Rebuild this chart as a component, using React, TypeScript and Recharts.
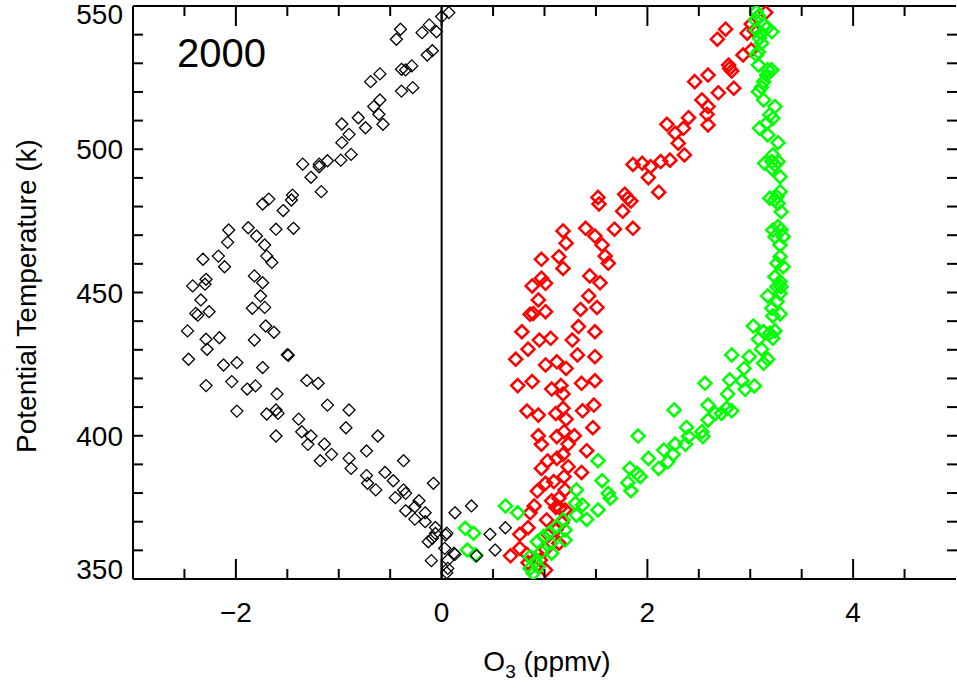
import React from 'react';
import { ScatterChart, Scatter, XAxis, YAxis, ReferenceLine } from 'recharts';

// ---- data (O3 ppmv, potential temperature K) ----
const blackSeries: [number, number][] = [
  [0.07, 547.7], [0.0, 546.3], [-0.12, 543.4], [-0.19, 540.7], [-0.05, 541.0], [-0.4, 541.9], [-0.44, 538.4],
  [-0.09, 534.4], [-0.14, 532.9], [-0.39, 527.9], [-0.35, 527.7], [-0.29, 529.1], [-0.6, 526.3], [-0.69, 523.6],
  [-0.39, 520.3], [-0.28, 521.5], [-0.6, 517.2], [-0.66, 514.9], [-0.61, 512.2], [-0.57, 508.7], [-0.81, 511.0],
  [-0.74, 507.5], [-0.97, 508.8], [-0.9, 505.2], [-0.97, 502.3], [-0.88, 498.2], [-0.98, 496.2], [-1.11, 496.0],
  [-1.19, 494.8], [-1.19, 493.9], [-1.35, 494.8], [-1.27, 490.2], [-1.17, 485.2], [-1.45, 484.0], [-1.46, 482.3],
  [-1.54, 478.6], [-1.68, 482.6], [-1.74, 480.9], [-1.88, 472.6], [-1.8, 469.7], [-1.72, 466.6], [-1.61, 472.1],
  [-1.44, 472.4], [-2.07, 471.8], [-2.08, 467.5], [-2.17, 462.7], [-2.32, 461.6], [-2.11, 459.0], [-1.7, 462.7],
  [-1.65, 460.5], [-1.82, 455.8], [-1.74, 453.4], [-2.29, 454.6], [-2.3, 452.9], [-2.42, 452.3],
  [-2.34, 447.4], [-2.26, 443.3], [-2.39, 442.7], [-2.37, 442.1], [-2.47, 436.6], [-2.29, 433.7], [-2.28, 430.2],
  [-2.16, 434.2], [-2.46, 426.7], [-2.12, 424.7], [-1.99, 425.5], [-2.29, 417.5], [-2.04, 418.9], [-1.89, 416.3],
  [-1.81, 417.4], [-1.99, 408.6], [-1.76, 448.8], [-1.84, 444.5], [-1.72, 444.8], [-1.71, 438.3], [-1.63, 436.1],
  [-1.82, 433.4], [-1.49, 428.1], [-1.5, 428.3], [-1.74, 423.8], [-1.6, 414.6], [-1.61, 409.0], [-1.7, 407.6],
  [-1.59, 407.8], [-1.61, 399.9], [-1.31, 419.3], [-1.2, 418.3], [-1.11, 410.7], [-0.9, 409.0], [-1.39, 405.8],
  [-1.36, 401.4], [-1.27, 399.9], [-1.3, 397.0], [-1.14, 397.1], [-1.07, 393.5], [-1.18, 391.3], [-0.93, 402.8],
  [-0.9, 392.1], [-0.88, 388.6], [-0.73, 394.7], [-0.62, 399.9], [-0.37, 391.3], [-0.55, 387.2], [-0.47, 384.3],
  [-0.73, 386.1], [-0.72, 383.4], [-0.64, 381.1], [-0.37, 381.1], [-0.35, 379.9], [-0.45, 378.4], [-0.22, 377.3],
  [-0.26, 375.2], [-0.35, 373.8], [-0.16, 373.1], [-0.26, 370.9], [-0.16, 370.0], [-0.08, 383.4], [-0.06, 368.0],
  [-0.06, 365.9], [-0.09, 364.2], [-0.13, 363.0], [0.04, 365.4], [0.13, 373.1], [0.03, 360.7], [0.13, 358.6],
  [0.06, 356.6], [-0.1, 356.4], [0.06, 353.7], [0.05, 352.2], [0.29, 375.5], [0.47, 365.6], [0.62, 367.9],
  [0.52, 360.1], [0.34, 358.1], [0.05, 366.0], [0.12, 359.0],
];

const redSeries: [number, number][] = [
  [3.15, 547.7], [3.01, 543.7], [2.97, 540.5], [3.04, 541.4], [2.76, 541.9], [2.68, 538.4], [2.93, 532.9],
  [3.01, 534.6], [2.79, 529.4], [2.8, 528.2], [2.82, 527.3], [2.59, 525.9], [2.46, 523.6], [2.69, 519.7],
  [2.84, 521.3], [2.53, 517.2], [2.59, 514.9], [2.58, 512.2], [2.59, 508.5], [2.19, 508.7], [2.4, 511.0],
  [2.35, 507.3], [2.27, 505.6], [2.3, 502.1], [2.36, 498.0], [2.22, 496.2], [2.13, 495.7], [2.03, 493.9],
  [1.95, 495.1], [1.86, 494.7], [2.01, 490.1], [2.11, 485.0], [1.78, 484.3], [1.81, 482.9], [1.84, 481.9],
  [1.52, 483.2], [1.53, 480.9], [1.76, 478.4], [1.68, 472.1], [1.86, 472.4], [1.4, 472.4], [1.49, 469.7],
  [1.18, 471.5], [1.21, 467.2], [1.56, 466.6], [1.59, 462.7], [1.62, 460.2], [1.14, 462.5], [0.97, 461.6],
  [1.18, 458.4], [1.44, 455.8], [1.54, 453.4], [0.97, 455.0], [1.01, 453.2], [0.88, 452.3],
  [1.43, 448.8], [0.94, 447.4], [1.01, 443.3], [0.86, 442.4], [0.89, 442.7], [1.35, 444.1], [1.51, 444.8],
  [0.78, 436.3], [0.95, 433.4], [1.06, 434.0], [1.33, 438.1], [1.27, 433.4], [1.49, 436.3], [0.84, 430.2],
  [0.72, 426.7], [1.01, 424.7], [1.12, 425.8], [1.21, 423.5], [1.32, 428.2], [1.49, 427.6], [0.74, 417.5],
  [0.88, 418.9], [1.07, 416.3], [1.16, 417.5], [1.18, 414.6], [1.36, 418.3], [1.49, 419.2], [0.83, 408.6],
  [0.94, 407.2], [1.11, 407.8], [1.18, 409.6], [1.21, 405.8], [1.37, 408.7], [1.48, 410.7], [1.47, 402.8],
  [0.94, 400.0], [0.97, 397.0], [1.12, 399.7], [1.19, 401.4], [1.29, 400.0], [1.23, 397.1], [1.41, 394.8],
  [1.03, 391.2], [1.12, 392.1], [1.18, 393.5], [0.97, 388.6], [1.23, 389.2], [1.36, 387.2], [1.01, 383.4],
  [1.09, 384.0], [1.19, 385.7], [0.93, 380.7], [1.2, 381.1], [1.14, 378.2], [1.07, 377.3], [0.9, 375.5],
  [0.86, 373.1], [1.11, 375.0], [1.15, 374.7], [1.02, 370.6], [1.2, 374.1], [1.17, 369.7], [0.84, 367.9],
  [0.76, 365.6], [1.04, 365.4], [1.11, 367.1], [1.14, 362.5], [0.76, 360.7], [0.67, 358.1], [0.83, 358.6],
  [1.01, 360.4], [0.84, 355.7], [0.96, 356.6], [1.01, 353.1],
];

const greenSeries: [number, number][] = [
  [3.06, 548.0], [3.08, 546.5], [3.05, 545.1], [3.14, 543.4], [3.21, 541.0], [3.11, 540.5], [3.16, 542.2],
  [3.06, 541.6], [3.09, 538.7], [3.11, 537.0], [3.08, 534.0], [3.06, 532.9], [3.08, 529.4], [3.17, 527.7],
  [3.21, 527.7], [3.16, 525.9], [3.13, 523.6], [3.11, 521.6], [3.08, 520.1], [3.13, 517.2], [3.24, 514.9],
  [3.19, 512.0], [3.22, 510.8], [3.16, 509.1], [3.09, 507.3], [3.17, 505.0], [3.27, 502.3], [3.22, 498.0],
  [3.14, 495.1], [3.21, 495.7], [3.24, 494.5], [3.27, 495.7], [3.21, 493.3], [3.29, 490.4], [3.29, 485.2],
  [3.19, 482.9], [3.26, 483.4], [3.27, 481.1], [3.3, 478.2], [3.24, 482.3], [3.27, 473.0], [3.22, 471.8],
  [3.3, 471.8], [3.24, 469.5], [3.32, 469.5], [3.29, 466.6], [3.29, 462.5], [3.26, 460.2], [3.32, 459.0],
  [3.24, 455.5], [3.29, 453.8], [3.3, 452.0], [3.26, 452.0],
  [3.17, 448.8], [3.29, 449.7], [3.26, 446.8], [3.21, 444.5], [3.29, 442.5], [3.22, 441.8], [3.03, 438.3],
  [3.13, 436.3], [3.24, 436.6], [3.08, 433.7], [3.22, 434.0], [3.19, 435.8], [3.11, 430.2], [2.99, 427.6],
  [3.17, 426.7], [3.13, 425.3], [2.82, 428.2], [2.94, 423.5], [2.8, 419.5], [2.92, 419.2], [3.04, 417.4],
  [2.95, 416.2], [2.78, 414.6], [2.56, 418.3], [2.59, 410.7], [2.72, 407.8], [2.82, 408.7], [2.77, 409.6],
  [2.66, 407.8], [2.59, 405.5], [2.26, 409.0], [2.38, 402.9], [2.53, 401.4], [2.54, 399.7], [2.4, 399.7],
  [2.37, 397.0], [2.27, 397.1], [2.16, 395.0], [2.25, 393.5], [2.01, 392.1], [2.2, 390.9], [2.11, 388.6],
  [1.91, 399.9], [1.83, 388.6], [1.9, 386.9], [1.93, 385.7], [1.52, 391.3], [1.56, 384.3], [1.62, 379.9],
  [1.64, 378.2], [1.81, 383.6], [1.84, 380.8], [1.31, 381.1], [1.37, 375.8], [1.3, 376.4], [1.31, 372.3],
  [1.41, 370.8], [1.52, 374.1], [0.62, 375.5], [0.74, 373.1], [1.18, 370.6], [1.12, 368.3], [1.2, 367.1],
  [1.2, 363.6], [1.04, 366.0], [0.99, 364.8], [0.93, 363.0], [1.06, 362.5], [1.07, 359.0], [0.97, 359.5],
  [0.86, 357.8], [0.91, 356.0], [0.86, 353.7], [0.94, 354.3], [0.89, 352.0], [0.23, 367.7], [0.31, 366.0],
  [0.25, 360.1], [0.33, 358.4],
];

const xTicks = [-3, -2.5, -2, -1.5, -1, -0.5, 0, 0.5, 1, 1.5, 2, 2.5, 3, 3.5, 4, 4.5, 5];
const xLabelTicks = [-2, 0, 2, 4];
const yTicks = [350, 360, 370, 380, 390, 400, 410, 420, 430, 440, 450, 460, 470, 480, 490, 500, 510, 520, 530, 540, 550];
const yLabelTicks = [350, 400, 450, 500, 550];

const toPoints = (s: [number, number][]) => s.map(([x, y]) => ({ x, y }));
const blackData = toPoints(blackSeries);
const redData = toPoints(redSeries);
const greenData = toPoints(greenSeries);

// ---- layout ----
const W = 957;
const H = 688;
const LEFT = 133;
const TOP = 6;
const BOTTOM = 579;
const RIGHT = 956;
const FONT = '"Liberation Sans", Arial, Helvetica, sans-serif';

const diamond = (color: string, r: number, sw: number) => (props: any) => {
  const { cx, cy } = props;
  if (cx == null || cy == null) return <g />;
  return (
    <path
      d={`M${cx},${cy - r}L${cx + r},${cy}L${cx},${cy + r}L${cx - r},${cy}Z`}
      fill="none"
      stroke={color}
      strokeWidth={sw}
    />
  );
};

const fmt = (v: number) => (v < 0 ? `\u2212${Math.abs(v)}` : `${v}`);
const isInner = (v: number, lo: number, hi: number) => v > lo && v < hi;

const renderBottomTick = (props: any) => {
  const { x, payload } = props;
  const v = payload.value;
  if (!isInner(v, -3, 5)) return <g />;
  const major = xLabelTicks.includes(v);
  return (
    <g>
      <line x1={x} x2={x} y1={BOTTOM} y2={BOTTOM - (major ? 20 : 10)} stroke="#000" strokeWidth={2} />
      {major && (
        <text x={x} y={622} textAnchor="middle" fontSize={28} fontFamily={FONT} fill="#000">
          {fmt(v)}
        </text>
      )}
    </g>
  );
};

const renderTopTick = (props: any) => {
  const { x, payload } = props;
  const v = payload.value;
  if (!isInner(v, -3, 5)) return <g />;
  const major = xLabelTicks.includes(v);
  return <line x1={x} x2={x} y1={TOP} y2={TOP + (major ? 20 : 10)} stroke="#000" strokeWidth={2} />;
};

const renderLeftTick = (props: any) => {
  const { y, payload } = props;
  const v = payload.value;
  const major = yLabelTicks.includes(v);
  const ly = Math.min(Math.max(y, 14), 569);
  return (
    <g>
      {isInner(v, 350, 550) && <line x1={LEFT} x2={LEFT + 10} y1={y} y2={y} stroke="#000" strokeWidth={2} />}
      {major && (
        <text x={123} y={ly + 10} textAnchor="end" fontSize={28} fontFamily={FONT} fill="#000">
          {v}
        </text>
      )}
    </g>
  );
};

const renderRightTick = (props: any) => {
  const { y, payload } = props;
  const v = payload.value;
  if (!isInner(v, 350, 550)) return <g />;
  return <line x1={W} x2={W - 10} y1={y} y2={y} stroke="#000" strokeWidth={2} />;
};

const axisLine = { stroke: '#000', strokeWidth: 2 };

export default function App() {
  return (
    <div style={{ position: 'absolute', left: 0, top: 0, width: W, height: H, background: '#fff' }}>
      <ScatterChart width={W} height={H} margin={{ top: 0, left: 0, right: 0, bottom: 0 }}>
        <XAxis
          xAxisId="bottom"
          orientation="bottom"
          type="number"
          dataKey="x"
          domain={[-3, 5]}
          ticks={xTicks}
          interval={0}
          allowDataOverflow
          height={H - BOTTOM}
          axisLine={axisLine}
          tickLine={false}
          tick={renderBottomTick}
          label={{
            content: () => (
              <text x={547} y={671} textAnchor="middle" fontSize={28} fontFamily={FONT} fill="#000">
                <tspan>O</tspan>
                <tspan fontSize={19} dy={7}>3</tspan>
                <tspan dy={-7}> (ppmv)</tspan>
              </text>
            ),
          }}
        />
        <XAxis
          xAxisId="top"
          orientation="top"
          type="number"
          dataKey="x"
          domain={[-3, 5]}
          ticks={xTicks}
          interval={0}
          allowDataOverflow
          height={TOP}
          axisLine={axisLine}
          tickLine={false}
          tick={renderTopTick}
          label={{
            content: () => (
              <text x={177} y={67} textAnchor="start" fontSize={40} fontFamily={FONT} fill="#000">
                2000
              </text>
            ),
          }}
        />
        <YAxis
          yAxisId="left"
          orientation="left"
          type="number"
          dataKey="y"
          domain={[350, 550]}
          ticks={yTicks}
          interval={0}
          allowDataOverflow
          width={LEFT}
          axisLine={axisLine}
          tickLine={false}
          tick={renderLeftTick}
          label={{
            content: () => (
              <text
                x={36}
                y={296}
                transform="rotate(-90 36 296)"
                textAnchor="middle"
                fontSize={28}
                fontFamily={FONT}
                fill="#000"
              >
                Potential Temperature (k)
              </text>
            ),
          }}
        />
        <YAxis
          yAxisId="right"
          orientation="right"
          type="number"
          dataKey="y"
          domain={[350, 550]}
          ticks={yTicks}
          interval={0}
          allowDataOverflow
          width={W - RIGHT}
          axisLine={false}
          tickLine={false}
          tick={renderRightTick}
        />
        <ReferenceLine xAxisId="bottom" yAxisId="left" x={0} stroke="#000" strokeWidth={2} />
        <Scatter
          xAxisId="bottom"
          yAxisId="left"
          data={redData}
          shape={diamond('#ff0000', 6.5, 2.5)}
          isAnimationActive={false}
        />
        <Scatter
          xAxisId="bottom"
          yAxisId="left"
          data={greenData}
          shape={diamond('#00ff00', 6.5, 2.5)}
          isAnimationActive={false}
        />
        <Scatter
          xAxisId="top"
          yAxisId="right"
          data={blackData}
          shape={diamond('#000000', 6, 1.3)}
          isAnimationActive={false}
        />
      </ScatterChart>
    </div>
  );
}
